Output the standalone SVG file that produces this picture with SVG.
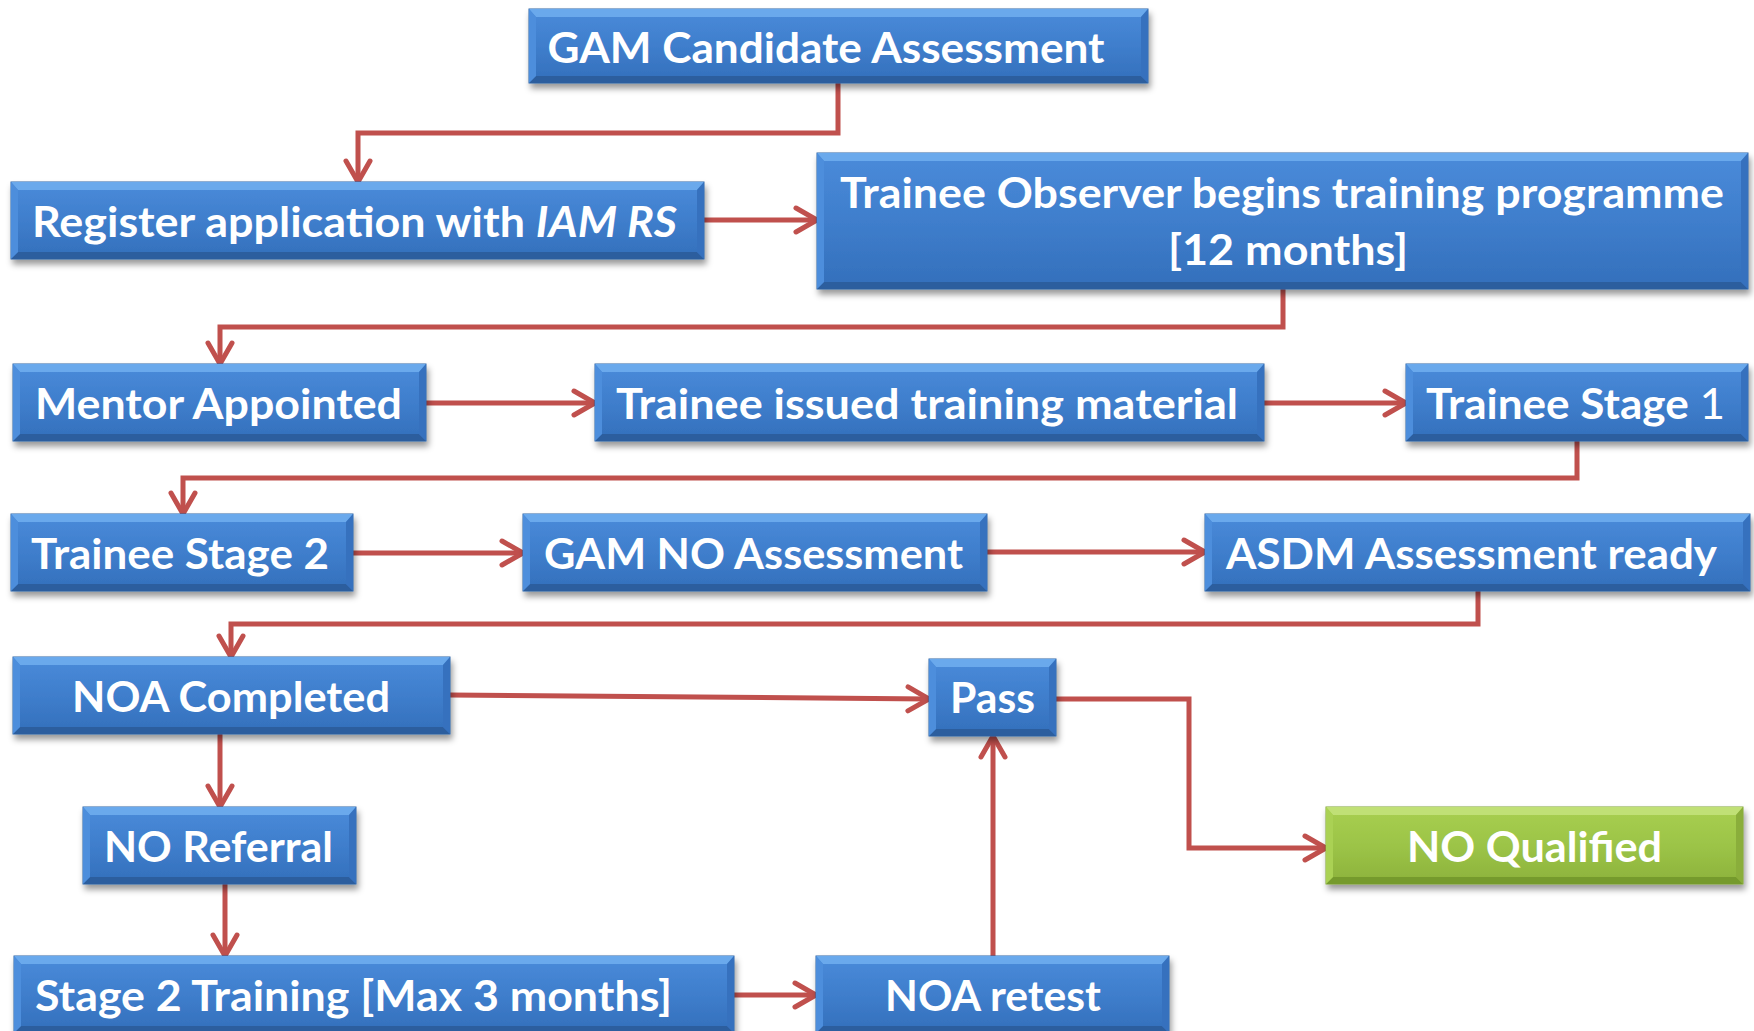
<svg xmlns="http://www.w3.org/2000/svg" width="1754" height="1031" viewBox="0 0 1754 1031">
<defs>
<linearGradient id="gBlue" x1="0" y1="0" x2="0" y2="1">
<stop offset="0" stop-color="#4A8BDA"/><stop offset="0.5" stop-color="#3F7ECC"/><stop offset="1" stop-color="#336FBB"/>
</linearGradient>
<linearGradient id="gGreen" x1="0" y1="0" x2="0" y2="1">
<stop offset="0" stop-color="#A8CF51"/><stop offset="0.5" stop-color="#9CC447"/><stop offset="1" stop-color="#8CB23C"/>
</linearGradient>
<filter id="sh" x="-10%" y="-20%" width="120%" height="150%">
<feDropShadow dx="2" dy="5" stdDeviation="3" flood-color="#000" flood-opacity="0.4"/>
</filter>
<marker id="arr" viewBox="-26 -16 30 32" markerWidth="30" markerHeight="32" refX="0" refY="0" orient="auto" markerUnits="userSpaceOnUse" overflow="visible">
<path d="M-21,-12 L0,0 L-21,12" fill="none" stroke="#C0504D" stroke-width="5" stroke-linecap="round" stroke-linejoin="miter"/>
</marker>
<style>
.body{fill:url(#gBlue);stroke:#2F64A6;stroke-width:1;filter:url(#sh)}
.bt{fill:#6AA9EC}.bb{fill:#2C5E9E}.bl{fill:#4D8EDC}.br{fill:#3671BE}
.green .body{fill:url(#gGreen);stroke:#7FA235}
.green .bt{fill:#C0E076}.green .bb{fill:#759A2D}.green .bl{fill:#AAD154}.green .br{fill:#8AAE3B}
text{font-family:Lato,"Open Sans","Liberation Sans",sans-serif;font-weight:700;font-size:42px;fill:#fff;text-anchor:middle}
.con path{fill:none;stroke:#C0504D;stroke-width:5;marker-end:url(#arr)}
</style>
</defs>
<rect width="1754" height="1031" fill="#fff"/>

<g class="con">
<path d="M838 83 V133 H358 V182"/>
<path d="M704 220 H817"/>
<path d="M1283 289 V327 H220 V364"/>
<path d="M426 403 H595"/>
<path d="M1264 403 H1406"/>
<path d="M1577 441 V478 H183 V514"/>
<path d="M353 553 H523"/>
<path d="M987 552 H1205"/>
<path d="M1478 591 V624 H231 V657"/>
<path d="M450 695 L929 699"/>
<path d="M1056 699 H1189 V848 H1326"/>
<path d="M220 734 V807"/>
<path d="M225 884 V956"/>
<path d="M734 995 H816"/>
<path d="M993 956 V736"/>
</g>

<g id="n-gam" class="node" transform="translate(529,9)">
<rect class="body" width="619" height="74"/>
<path class="bt" d="M0 0 H619 l-7 8 H7 z"/><path class="bb" d="M0 74 H619 l-7 -7 H7 z"/>
<path class="bl" d="M0 0 l7 8 V67 l-7 7 z"/><path class="br" d="M619 0 l-7 8 V67 l7 7 z"/>
<text x="297" y="54" textLength="557" lengthAdjust="spacingAndGlyphs">GAM Candidate Assessment</text>
</g>

<g id="n-register" class="node" transform="translate(11,182)">
<rect class="body" width="693" height="77"/>
<path class="bt" d="M0 0 H693 l-7 8 H7 z"/><path class="bb" d="M0 77 H693 l-7 -7 H7 z"/>
<path class="bl" d="M0 0 l7 8 V70 l-7 7 z"/><path class="br" d="M693 0 l-7 8 V70 l7 7 z"/>
<text x="343.5" y="55" textLength="645" lengthAdjust="spacingAndGlyphs">Register application with <tspan font-style="italic">IAM RS</tspan></text>
</g>

<g id="n-observer" class="node" transform="translate(817,153)">
<rect class="body" width="931" height="136"/>
<path class="bt" d="M0 0 H931 l-7 8 H7 z"/><path class="bb" d="M0 136 H931 l-7 -7 H7 z"/>
<path class="bl" d="M0 0 l7 8 V129 l-7 7 z"/><path class="br" d="M931 0 l-7 8 V129 l7 7 z"/>
<text x="465" y="55" textLength="884" lengthAdjust="spacingAndGlyphs">Trainee Observer begins training programme</text>
<text x="471" y="112" textLength="240" lengthAdjust="spacingAndGlyphs">[12 months]</text>
</g>

<g id="n-mentor" class="node" transform="translate(13,364)">
<rect class="body" width="413" height="77"/>
<path class="bt" d="M0 0 H413 l-7 8 H7 z"/><path class="bb" d="M0 77 H413 l-7 -7 H7 z"/>
<path class="bl" d="M0 0 l7 8 V70 l-7 7 z"/><path class="br" d="M413 0 l-7 8 V70 l7 7 z"/>
<text x="205.5" y="55" textLength="367" lengthAdjust="spacingAndGlyphs">Mentor Appointed</text>
</g>

<g id="n-material" class="node" transform="translate(595,364)">
<rect class="body" width="669" height="77"/>
<path class="bt" d="M0 0 H669 l-7 8 H7 z"/><path class="bb" d="M0 77 H669 l-7 -7 H7 z"/>
<path class="bl" d="M0 0 l7 8 V70 l-7 7 z"/><path class="br" d="M669 0 l-7 8 V70 l7 7 z"/>
<text x="332" y="55" textLength="622" lengthAdjust="spacingAndGlyphs">Trainee issued training material</text>
</g>

<g id="n-stage1" class="node" transform="translate(1406,364)">
<rect class="body" width="342" height="77"/>
<path class="bt" d="M0 0 H342 l-7 8 H7 z"/><path class="bb" d="M0 77 H342 l-7 -7 H7 z"/>
<path class="bl" d="M0 0 l7 8 V70 l-7 7 z"/><path class="br" d="M342 0 l-7 8 V70 l7 7 z"/>
<text x="169.5" y="55" textLength="299" lengthAdjust="spacingAndGlyphs">Trainee Stage <tspan font-weight="400">1</tspan></text>
</g>

<g id="n-stage2" class="node" transform="translate(11,514)">
<rect class="body" width="342" height="77"/>
<path class="bt" d="M0 0 H342 l-7 8 H7 z"/><path class="bb" d="M0 77 H342 l-7 -7 H7 z"/>
<path class="bl" d="M0 0 l7 8 V70 l-7 7 z"/><path class="br" d="M342 0 l-7 8 V70 l7 7 z"/>
<text x="169" y="55" textLength="298" lengthAdjust="spacingAndGlyphs">Trainee Stage 2</text>
</g>

<g id="n-gamno" class="node" transform="translate(523,514)">
<rect class="body" width="464" height="77"/>
<path class="bt" d="M0 0 H464 l-7 8 H7 z"/><path class="bb" d="M0 77 H464 l-7 -7 H7 z"/>
<path class="bl" d="M0 0 l7 8 V70 l-7 7 z"/><path class="br" d="M464 0 l-7 8 V70 l7 7 z"/>
<text x="230.5" y="55" textLength="419" lengthAdjust="spacingAndGlyphs">GAM NO Assessment</text>
</g>

<g id="n-asdm" class="node" transform="translate(1205,514)">
<rect class="body" width="545" height="77"/>
<path class="bt" d="M0 0 H545 l-7 8 H7 z"/><path class="bb" d="M0 77 H545 l-7 -7 H7 z"/>
<path class="bl" d="M0 0 l7 8 V70 l-7 7 z"/><path class="br" d="M545 0 l-7 8 V70 l7 7 z"/>
<text x="266.5" y="55" textLength="491" lengthAdjust="spacingAndGlyphs">ASDM Assessment ready</text>
</g>

<g id="n-noa" class="node" transform="translate(13,657)">
<rect class="body" width="437" height="77"/>
<path class="bt" d="M0 0 H437 l-7 8 H7 z"/><path class="bb" d="M0 77 H437 l-7 -7 H7 z"/>
<path class="bl" d="M0 0 l7 8 V70 l-7 7 z"/><path class="br" d="M437 0 l-7 8 V70 l7 7 z"/>
<text x="218" y="55" textLength="318" lengthAdjust="spacingAndGlyphs">NOA Completed</text>
</g>

<g id="n-pass" class="node" transform="translate(929,659)">
<rect class="body" width="127" height="77"/>
<path class="bt" d="M0 0 H127 l-7 8 H7 z"/><path class="bb" d="M0 77 H127 l-7 -7 H7 z"/>
<path class="bl" d="M0 0 l7 8 V70 l-7 7 z"/><path class="br" d="M127 0 l-7 8 V70 l7 7 z"/>
<text x="63.5" y="54" textLength="85" lengthAdjust="spacingAndGlyphs">Pass</text>
</g>

<g id="n-qualified" class="node green" transform="translate(1326,807)">
<rect class="body" width="417" height="77"/>
<path class="bt" d="M0 0 H417 l-7 8 H7 z"/><path class="bb" d="M0 77 H417 l-7 -7 H7 z"/>
<path class="bl" d="M0 0 l7 8 V70 l-7 7 z"/><path class="br" d="M417 0 l-7 8 V70 l7 7 z"/>
<text x="208.5" y="55" textLength="255" lengthAdjust="spacingAndGlyphs">NO Qualified</text>
</g>

<g id="n-referral" class="node" transform="translate(83,807)">
<rect class="body" width="273" height="77"/>
<path class="bt" d="M0 0 H273 l-7 8 H7 z"/><path class="bb" d="M0 77 H273 l-7 -7 H7 z"/>
<path class="bl" d="M0 0 l7 8 V70 l-7 7 z"/><path class="br" d="M273 0 l-7 8 V70 l7 7 z"/>
<text x="135.5" y="55" textLength="229" lengthAdjust="spacingAndGlyphs">NO Referral</text>
</g>

<g id="n-s2training" class="node" transform="translate(14,956)">
<rect class="body" width="720" height="77"/>
<path class="bt" d="M0 0 H720 l-7 8 H7 z"/><path class="bb" d="M0 77 H720 l-7 -7 H7 z"/>
<path class="bl" d="M0 0 l7 8 V70 l-7 7 z"/><path class="br" d="M720 0 l-7 8 V70 l7 7 z"/>
<text x="339.5" y="55" textLength="637" lengthAdjust="spacingAndGlyphs">Stage 2 Training [Max 3 months]</text>
</g>

<g id="n-retest" class="node" transform="translate(816,956)">
<rect class="body" width="353" height="77"/>
<path class="bt" d="M0 0 H353 l-7 8 H7 z"/><path class="bb" d="M0 77 H353 l-7 -7 H7 z"/>
<path class="bl" d="M0 0 l7 8 V70 l-7 7 z"/><path class="br" d="M353 0 l-7 8 V70 l7 7 z"/>
<text x="177" y="55" textLength="216" lengthAdjust="spacingAndGlyphs">NOA retest</text>
</g>
</svg>
